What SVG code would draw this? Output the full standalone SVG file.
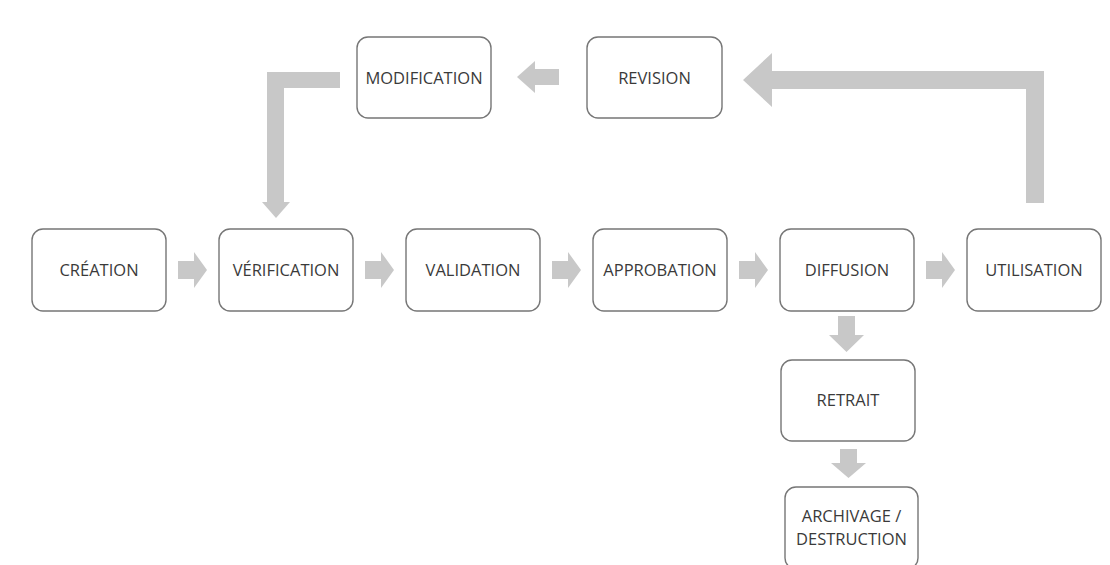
<svg xmlns="http://www.w3.org/2000/svg" width="1110" height="565" viewBox="0 0 1110 565">
<style>
.box{fill:#ffffff;stroke:#767676;stroke-width:1.4}
.lbl{font-family:"Open Sans","Liberation Sans",sans-serif;font-size:16.5px;fill:#3a3a3a;text-anchor:middle}
.arr{fill:#c8c8c8;stroke:none}
</style>
<rect width="1110" height="565" fill="#ffffff"/>
<g id="connectors">
<polygon class="arr" points="178,261 194,261 194,252 207,270 194,288 194,279 178,279"/>
<polygon class="arr" points="365,261 381,261 381,252 394,270 381,288 381,279 365,279"/>
<polygon class="arr" points="552,261 568,261 568,252 581,270 568,288 568,279 552,279"/>
<polygon class="arr" points="739,261 755,261 755,252 768,270 755,288 755,279 739,279"/>
<polygon class="arr" points="926,261 942,261 942,252 955,270 942,288 942,279 926,279"/>
<polygon class="arr" points="838,316 855,316 855,335 864,335 846.5,352 829,335 838,335"/>
<polygon class="arr" points="840,449 857,449 857,463 866,463 848.5,478 831,463 840,463"/>
<polygon class="arr" points="559,69 535,69 535,61 517,77 535,93 535,85 559,85"/>
<polygon class="arr" points="1044,203 1026,203 1026,89 772,89 772,107 743,80 772,53 772,71 1044,71"/>
<polygon class="arr" points="340,72 267,72 267,202 262,202 276,218 290,202 284,202 284,88 340,88"/>
</g>
<g id="creation"><rect class="box" x="32" y="229" width="134" height="82" rx="11"/><text class="lbl" x="99" y="276">CRÉATION</text></g>
<g id="verification"><rect class="box" x="219" y="229" width="134" height="82" rx="11"/><text class="lbl" x="286" y="276">VÉRIFICATION</text></g>
<g id="validation"><rect class="box" x="406" y="229" width="134" height="82" rx="11"/><text class="lbl" x="473" y="276">VALIDATION</text></g>
<g id="approbation"><rect class="box" x="593" y="229" width="134" height="82" rx="11"/><text class="lbl" x="660" y="276">APPROBATION</text></g>
<g id="diffusion"><rect class="box" x="780" y="229" width="134" height="82" rx="11"/><text class="lbl" x="847" y="276">DIFFUSION</text></g>
<g id="utilisation"><rect class="box" x="967" y="229" width="134" height="82" rx="11"/><text class="lbl" x="1034" y="276">UTILISATION</text></g>
<g id="modification"><rect class="box" x="357" y="37" width="134" height="81" rx="11"/><text class="lbl" x="424" y="84">MODIFICATION</text></g>
<g id="revision"><rect class="box" x="587" y="37" width="135" height="81" rx="11"/><text class="lbl" x="654.5" y="84">REVISION</text></g>
<g id="retrait"><rect class="box" x="781" y="360" width="134" height="81" rx="11"/><text class="lbl" x="848" y="406">RETRAIT</text></g>
<g id="archivage"><rect class="box" x="785" y="487" width="133" height="82" rx="11"/><text class="lbl" x="851.5" y="522">ARCHIVAGE /</text><text class="lbl" x="851.5" y="545">DESTRUCTION</text></g>
</svg>
